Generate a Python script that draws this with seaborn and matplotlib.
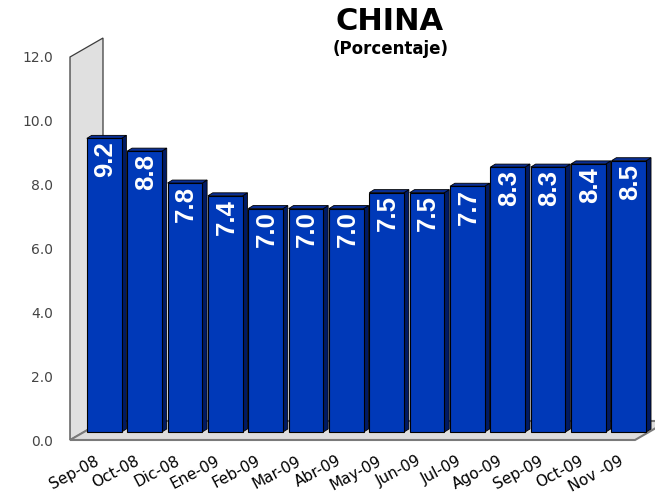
import numpy as np
import matplotlib
matplotlib.use('Agg')
import matplotlib.pyplot as plt
import matplotlib.transforms as mtransforms
from matplotlib.patches import Polygon
from matplotlib import font_manager
import seaborn as sns

meses = ['Sep-08', 'Oct-08', 'Dic-08', 'Ene-09', 'Feb-09', 'Mar-09', 'Abr-09',
         'May-09', 'Jun-09', 'Jul-09', 'Ago-09', 'Sep-09', 'Oct-09', 'Nov -09']
valores = [9.2, 8.8, 7.8, 7.4, 7.0, 7.0, 7.0, 7.5, 7.5, 7.7, 8.3, 8.3, 8.4, 8.5]
marcas_y = [0, 2, 4, 6, 8, 10, 12]

titulo = 'CHINA'
subtitulo = '(Porcentaje)'

azul = '#0039b8'
azul_lado = '#001a63'
azul_techo = '#0a2f95'

sns.set_style('white')
plt.rcParams['font.family'] = ['DejaVu Sans']

nombres = {f.name for f in font_manager.fontManager.ttflist}
if 'Liberation Sans Narrow' in nombres:
    fuente_val, tam_val = 'Liberation Sans Narrow', 21
else:
    fuente_val, tam_val = 'Liberation Sans', 18.5

W, H = 655, 493
fig = plt.figure(figsize=(W / 100, H / 100), dpi=100)
ax = fig.add_axes([70 / W, 53 / H, 565 / W, 383 / H])

# paredes del efecto 3D (en fracción de ejes)
px = 33 / 565
py = 19 / 383
pared = Polygon([(0, 0), (0, 1), (px, 1 + py), (px, py)], closed=True,
                facecolor='#e0e0e0', edgecolor='#3c3c3c', lw=0.9,
                transform=ax.transAxes, clip_on=False, zorder=0)
piso = Polygon([(0, 0), (1, 0), (1 + px, py), (px, py)], closed=True,
               facecolor='#dddddd', edgecolor='#7a7a7a', lw=1.5,
               transform=ax.transAxes, clip_on=False, zorder=0)
ax.add_patch(pared)
ax.add_patch(piso)

sns.barplot(x=meses, y=valores, color=azul, width=0.86, edgecolor='black',
            linewidth=0.8, saturation=1, ax=ax, zorder=3)

desplaza = ax.transData + mtransforms.ScaledTranslation(0.14, 0.08, fig.dpi_scale_trans)
dx, dy = 0.12, 0.094
for barra, v in zip(ax.patches[2:], valores):
    barra.set_transform(desplaza)
    barra.set_clip_on(False)
    x0, w, h = barra.get_x(), barra.get_width(), barra.get_height()
    lado = Polygon([(x0 + w, 0), (x0 + w + dx, dy), (x0 + w + dx, h + dy), (x0 + w, h)],
                   closed=True, facecolor=azul_lado, edgecolor='black', lw=0.6,
                   transform=desplaza, clip_on=False, zorder=2)
    techo = Polygon([(x0, h), (x0 + dx, h + dy), (x0 + w + dx, h + dy), (x0 + w, h)],
                    closed=True, facecolor=azul_techo, edgecolor='black', lw=0.6,
                    transform=desplaza, clip_on=False, zorder=2)
    ax.add_patch(lado)
    ax.add_patch(techo)
    ax.text(x0 + w / 2 + 0.03, h - 0.09, f'{v:.1f}', rotation=90, ha='center', va='top',
            color='white', fontweight='bold', family=fuente_val, fontsize=tam_val,
            transform=desplaza, zorder=5, clip_on=False)

ax.set_xlim(-0.5, len(meses) - 0.5)
ax.set_ylim(0, 12)
ax.set_yticks(marcas_y)
ax.set_yticklabels([f'{m:.1f}' for m in marcas_y], color='#444444', fontsize=10)
ax.set_xticks(range(len(meses)))
ax.set_xticklabels(meses, rotation=28, ha='right', va='top', rotation_mode='anchor',
                   fontsize=11, color='black')
ax.tick_params(axis='y', length=0, pad=12)
ax.tick_params(axis='x', length=0, pad=9.5)
mover = mtransforms.ScaledTranslation(0.04, 0, fig.dpi_scale_trans)
for et in ax.get_xticklabels():
    et.set_transform(et.get_transform() + mover)
ax.set_xlabel('')
ax.set_ylabel('')
sns.despine(ax=ax, left=True, bottom=True)
ax.grid(False)
ax.patch.set_alpha(0)

fig.text(390 / W, 1 - 22 / H, titulo, ha='center', va='center', fontsize=22,
         fontweight='bold', color='black')
fig.text(391 / W, 1 - 49 / H, subtitulo, ha='center', va='center', fontsize=12,
         fontweight='bold', color='black')

fig.savefig('out.png', dpi=100)
